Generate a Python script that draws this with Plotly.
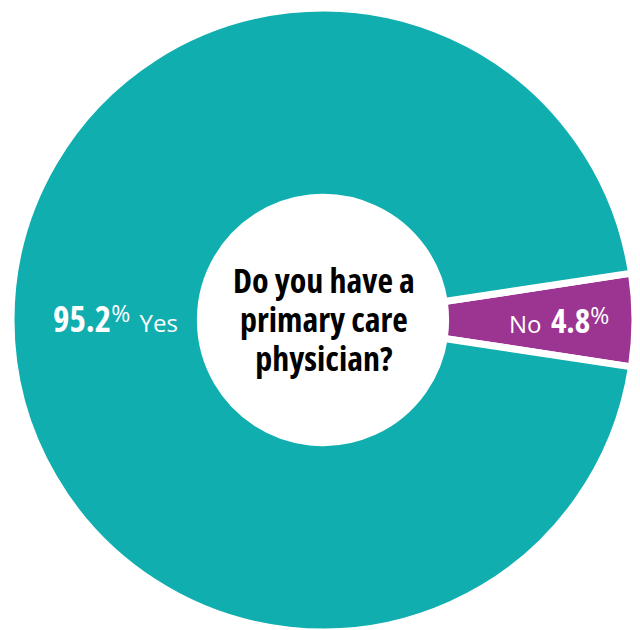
import plotly.graph_objects as go

labels = ["No", "Yes"]
values = [4.8, 95.2]
colors = ["#9C3491", "#10AEAF"]
question = ["Do you have a", "primary care", "physician?"]

W, H = 640, 630
COND = "font-family:'Open Sans';font-stretch:condensed;font-weight:bold;"
REG = "font-family:'Open Sans';font-weight:normal;"

no_share = values[0] / sum(values)
rotation = 90 - 360 * no_share / 2

fig = go.Figure(go.Pie(
    labels=labels,
    values=values,
    sort=False,
    direction="clockwise",
    rotation=rotation,
    hole=0.393,
    textinfo="none",
    hoverinfo="label+percent",
    marker=dict(colors=colors, line=dict(color="white", width=7)),
    domain=dict(x=[3 / W, 627 / W], y=[6 / H, 1]),
    showlegend=False,
))


def pct_text(v, size, supsize, shift):
    return (f"<span style=\"{COND}font-size:{size}px\">{v}</span>"
            f"<span style=\"{REG}font-size:{supsize}px;baseline-shift:{shift}px\">%</span>")


gap = "<span style=\"font-size:36px\"> </span>"
yes_text = (pct_text(values[1], 35, 23, 10) + gap
            + f"<span style=\"{REG}font-size:24px\">{labels[1]}</span>")
no_text = (f"<span style=\"{REG}font-size:24px\">{labels[0]}</span>" + gap
           + pct_text(values[0], 33, 23, 9))

question_text = "<br>".join(
    f"<span style=\"{COND}font-size:34px\">{line}</span>" for line in question)

annotations = [
    dict(text=yes_text, x=107 / W, y=1 - 310 / H, xref="paper", yref="paper",
         showarrow=False, xanchor="center", yanchor="middle",
         font=dict(color="white", size=24, family="Open Sans")),
    dict(text=no_text, x=551 / W, y=1 - 311 / H, xref="paper", yref="paper",
         showarrow=False, xanchor="center", yanchor="middle",
         font=dict(color="white", size=24, family="Open Sans")),
    dict(text=question_text, x=316 / W, y=1 - 310.9 / H, xref="paper", yref="paper",
         showarrow=False, xanchor="center", yanchor="middle",
         font=dict(family="Open Sans", size=30, color="black")),
]

fig.update_layout(
    width=W, height=H,
    margin=dict(l=0, r=0, t=0, b=0),
    paper_bgcolor="white",
    plot_bgcolor="white",
    annotations=annotations,
)

fig.write_html("out.html")
